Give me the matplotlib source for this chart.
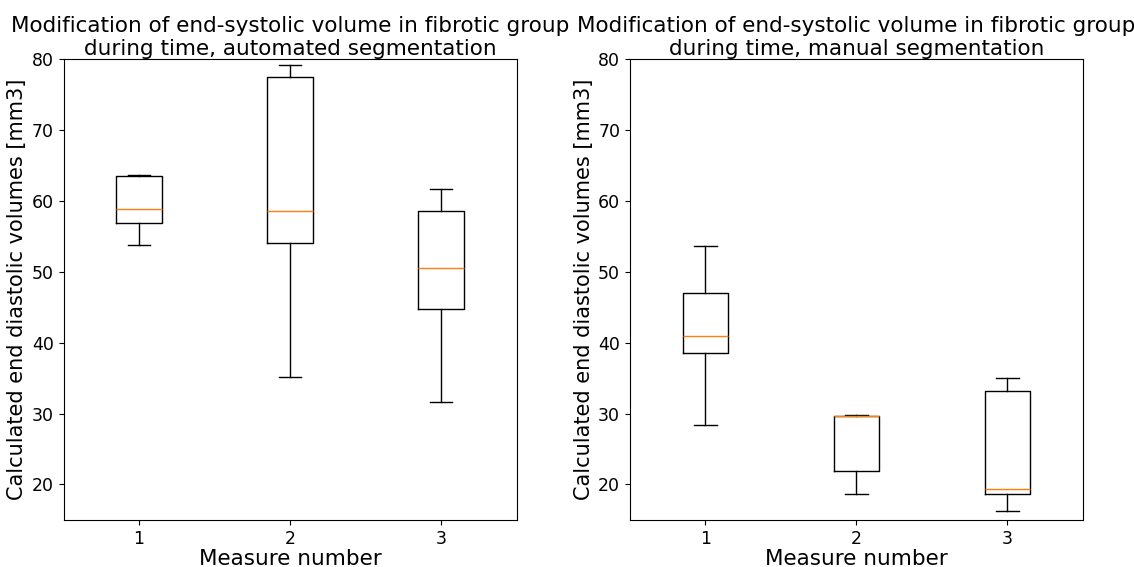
import matplotlib
matplotlib.use("Agg")
import matplotlib.pyplot as plt

measures = [1, 2, 3]

# automated segmentation: whisker low, q1, median, q3, whisker high
auto_low = [53.7, 35.2, 31.6]
auto_q1 = [56.9, 54.1, 44.7]
auto_med = [58.8, 58.5, 50.5]
auto_q3 = [63.5, 77.5, 58.5]
auto_high = [63.6, 79.1, 61.6]

# manual segmentation
man_low = [28.4, 18.6, 16.2]
man_q1 = [38.6, 21.9, 18.6]
man_med = [41.0, 29.6, 19.4]
man_q3 = [47.0, 29.7, 33.2]
man_high = [53.6, 29.8, 35.0]

titles = ["Modification of end-systolic volume in fibrotic group\nduring time, automated segmentation",
          "Modification of end-systolic volume in fibrotic group\nduring time, manual segmentation"]


def make_stats(low, q1, med, q3, high):
    stats = []
    for i in range(len(low)):
        stats.append({"whislo": low[i], "q1": q1[i], "med": med[i],
                      "q3": q3[i], "whishi": high[i], "fliers": []})
    return stats


fig, axes = plt.subplots(1, 2, figsize=(11.34, 5.67), dpi=100)
plt.subplots_adjust(left=0.056, right=0.955, top=0.896, bottom=0.083, wspace=0.25)

data = [make_stats(auto_low, auto_q1, auto_med, auto_q3, auto_high),
        make_stats(man_low, man_q1, man_med, man_q3, man_high)]

for ax, st, title in zip(axes, data, titles):
    ax.bxp(st, positions=measures, widths=0.3, showfliers=False)
    ax.set_ylim(15, 80)
    ax.set_xlim(0.5, 3.5)
    ax.set_title(title, fontsize=15.5, pad=3)
    ax.set_xlabel("Measure number", fontsize=15.5, labelpad=1)
    ax.set_ylabel("Calculated end diastolic volumes [mm3]", fontsize=15, labelpad=3)
    ax.tick_params(labelsize=12.5)

plt.savefig("out.png")
